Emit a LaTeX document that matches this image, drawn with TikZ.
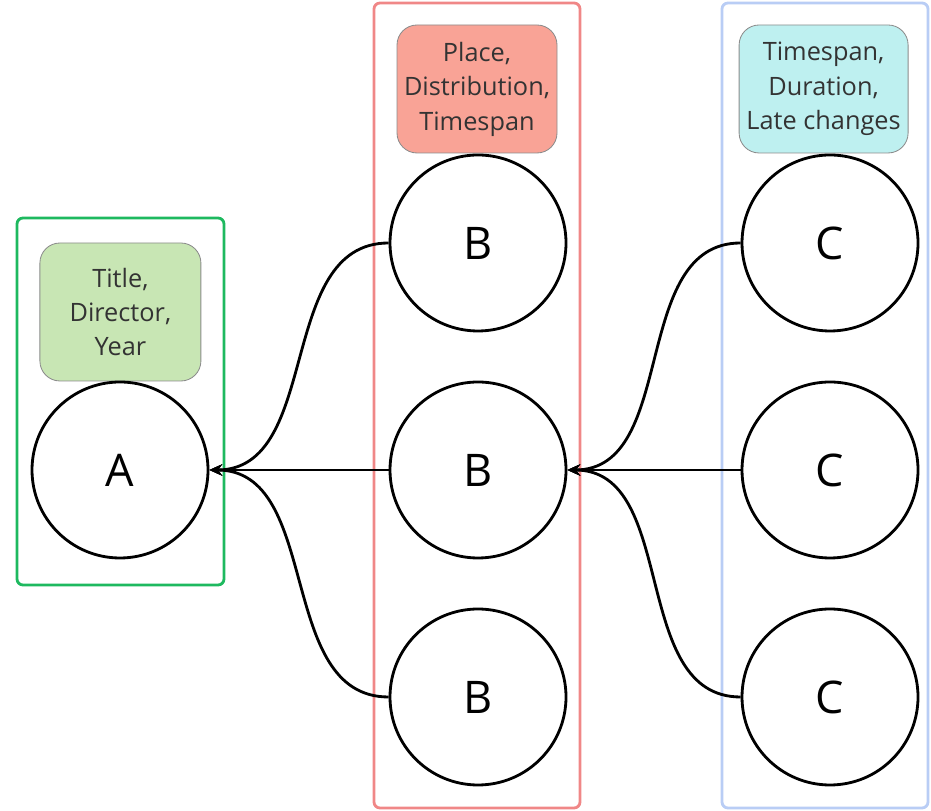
\documentclass[tikz,border=0pt]{standalone}
\usepackage{fontspec}
\setmainfont{Open Sans}
\usepackage{tikz}
\usetikzlibrary{arrows.meta}
\definecolor{grpgreen}{RGB}{30,185,95}
\definecolor{grpred}{RGB}{240,135,135}
\definecolor{grpblue}{RGB}{185,205,245}
\definecolor{tagGreen}{RGB}{200,230,180}
\definecolor{tagRed}{RGB}{249,163,150}
\definecolor{tagBlue}{RGB}{190,240,240}

\begin{document}
\begin{tikzpicture}[>={Stealth[length=9pt,width=8pt]},
    entity/.style={circle, draw, line width=2pt, minimum size=4.4cm, inner sep=0pt, font=\fontsize{32}{32}\selectfont},
    tag/.style={rounded corners=0.5cm, draw=black!45, line width=0.6pt, align=center, text=black!80, minimum height=3.2cm, font=\fontsize{18}{24.5}\selectfont},
    group/.style={rounded corners=0.15cm, line width=2pt},
    link/.style={->, line width=2pt}]
    \useasboundingbox (0, 0) rectangle (23.275, 20.275);
    % groups
    \draw [group, draw=grpgreen] (0.425, 5.65) rectangle (5.6, 14.825);
    \draw [group, draw=grpred] (9.35, 0.075) rectangle (14.5, 20.2);
    \draw [group, draw=grpblue] (18.05, 0.075) rectangle (23.2, 20.2);
    % tags
    \node [tag, fill=tagGreen, minimum width=4.025cm, minimum height=3.45cm] (ta) at (3.01, 12.475) {Title,\\Director,\\Year};
    \node [tag, fill=tagRed, minimum width=4.0cm] (tb) at (11.925, 18.05) {Place,\\Distribution,\\Timespan};
    \node [tag, fill=tagBlue, minimum width=4.225cm] (tc) at (20.59, 18.05) {Timespan,\\Duration,\\Late changes};
    % entities
    \node [entity] (a) at (3.0, 8.525) {A};
    \node [entity] (b1) at (11.95, 14.2) {B};
    \node [entity] (b2) at (11.95, 8.525) {B};
    \node [entity] (b3) at (11.95, 2.85) {B};
    \node [entity] (c1) at (20.75, 14.2) {C};
    \node [entity] (c2) at (20.75, 8.525) {C};
    \node [entity] (c3) at (20.75, 2.85) {C};
    % links
    \draw [link] (b1.west) to [out=180, in=0] (a.east);
    \draw [link] (b2.west) to (a.east);
    \draw [link] (b3.west) to [out=180, in=0] (a.east);
    \draw [link] (c1.west) to [out=180, in=0] (b2.east);
    \draw [link] (c2.west) to (b2.east);
    \draw [link] (c3.west) to [out=180, in=0] (b2.east);
\end{tikzpicture}
\end{document}
